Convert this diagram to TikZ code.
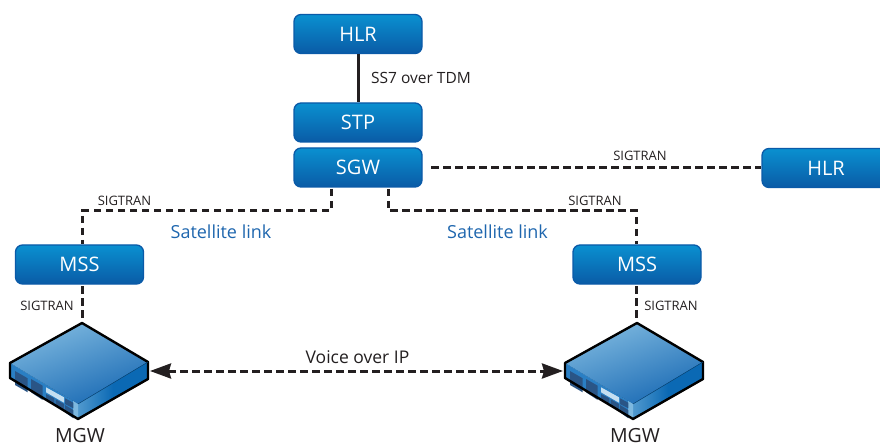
\documentclass[tikz,border=0pt]{standalone}
\usepackage{fontspec}
\setmainfont{Open Sans}
\usetikzlibrary{arrows.meta,calc}
\definecolor{boxtop}{HTML}{0A90D0}
\definecolor{boxbot}{HTML}{0A5BA6}
\definecolor{boxedge}{HTML}{0A5AA8}
\definecolor{labelblue}{HTML}{1E66AE}
\definecolor{txt}{HTML}{231F20}
\definecolor{facelight}{HTML}{7DB8DF}
\definecolor{facedark}{HTML}{1A6AB4}
\definecolor{leftface}{HTML}{2A7FC4}
\definecolor{rightface}{HTML}{0B69B4}
\definecolor{vent}{HTML}{2A5586}
\tikzset{
  x=1pt,y=-1pt,
  netbox/.style={rounded corners=7pt,draw=boxedge,line width=1.3pt,top color=boxtop,bottom color=boxbot,
    minimum width=128pt,minimum height=39pt,inner sep=0pt,text=white,font=\fontsize{20}{22}\selectfont},
  smalllabel/.style={font=\fontsize{13}{15}\selectfont,text=txt,inner sep=0pt},
  satlabel/.style={font=\fontsize{18}{20}\selectfont,text=labelblue,inner sep=0pt},
  midlabel/.style={font=\fontsize{17.5}{20}\selectfont,text=txt,inner sep=0pt},
  sslabel/.style={font=\fontsize{15.5}{18}\selectfont,text=txt,inner sep=0pt},
  mgwlabel/.style={font=\fontsize{19.5}{21}\selectfont,text=txt,inner sep=0pt},
  dashlink/.style={line width=3pt,draw=txt,dash pattern=on 7.5pt off 4.5pt},
  solidlink/.style={line width=3pt,draw=txt},
  anchorbox/.style={inner sep=0pt,minimum width=138pt,minimum height=96pt},
  pics/mgwbox/.style={code={
    \fill[top color=facelight,bottom color=facedark,shading angle=20]
      (0,0) -- (66,39) -- (-4,81) -- (-72,40) -- cycle;
    \fill[leftface] (-72,40) -- (-4,81) -- (-4,96) -- (-72,55) -- cycle;
    \fill[left color=facelight!60!rightface,right color=rightface,middle color=rightface] (-4,81) -- (66,39) -- (66,56) -- (-4,96) -- cycle;
    \fill[facelight] (-9,78) -- (-4,81) -- (-4,96) -- (-9,93) -- cycle;
    \foreach \p in {
      {(-67,48) -- (-54.3,55.3) -- (-54.3,69.3) -- (-67,62)},
      {(-51,56) -- (-39.3,62.7) -- (-39.3,77) -- (-51,69.3)},
      {(-36,71) -- (-27.7,75.3) -- (-27.7,82) -- (-36,77)},
      {(-26.3,76.3) -- (-18,81) -- (-18,87) -- (-26.3,82)},
      {(-17,75.3) -- (-8.7,79.7) -- (-8.7,85.3) -- (-17,81)},
      {(-17,82) -- (-8.7,87) -- (-8.7,95.3) -- (-17,89.3)}}{
      \fill[vent] \p -- cycle;
    }
    \fill[white!55!facelight] (-36,64.3) -- (-18,74.3) -- (-18,79.7) -- (-36,69.3) -- cycle;
    \draw[black,line width=2.4pt,line join=round] (0,0) -- (66,39) -- (66,56) -- (-4,96) -- (-72,55) -- (-72,40) -- cycle;
    \draw[rightface!70!black,line width=.5pt] (-4,81) -- (66,39);
  }}
}
\begin{document}
\begin{tikzpicture}
\useasboundingbox (0,0) rectangle (880,446);
\begin{scope}
\clip (0,0) rectangle (880,446);
\node[netbox] (hlra) at (358,34) {HLR};
\node[netbox] (stp) at (358,122.5) {STP};
\node[netbox] (sgw) at (358,167.5) {SGW};
\node[netbox] (hlrb) at (826,168) {HLR};
\node[netbox] (mssa) at (79.5,264.5) {MSS};
\node[netbox] (mssb) at (637,264.5) {MSS};
\end{scope}
\node[anchorbox] (mgwa) at (79,371) {};
\node[anchorbox] (mgwb) at (634,371) {};
\pic at (82,323) {mgwbox};
\pic at (637,323) {mgwbox};

\coordinate (sgwdl) at (331,189);
\coordinate (sgwdr) at (388,189);
\coordinate (bendl) at (331,211);
\coordinate (bendr) at (388,211);
\coordinate (mssatop) at (82,244);
\coordinate (mssbtop) at (636,244);
\coordinate (mssabot) at (82,286);
\coordinate (mssbbot) at (636,286);
\coordinate (mgwatop) at (82,322);
\coordinate (mgwbtop) at (636,322);
\coordinate (sgwe) at (431,168);
\coordinate (mgwae) at (150,371);
\coordinate (mgwbw) at (563,371);

\draw[solidlink] (hlra.south) -- (stp.north);
\draw[dashlink] (sgwe) -- (hlrb.west);
\draw[dashlink] (sgwdl) -- (bendl) -| (mssatop);
\draw[dashlink] (sgwdr) -- (bendr) -| (mssbtop);
\draw[dashlink] (mssabot) -- (mgwatop);
\draw[dashlink] (mssbbot) -- (mgwbtop);
\draw[dashlink,{Stealth[length=21pt,width=15pt,inset=2pt]}-{Stealth[length=21pt,width=15pt,inset=2pt]}] (mgwae) -- (mgwbw);

\node[sslabel,anchor=west] (ss7) at (371,78) {SS7 over TDM};
\node[smalllabel] (sig1) at (640,155.5) {SIGTRAN};
\node[smalllabel] (sig2) at (124.5,201) {SIGTRAN};
\node[smalllabel] (sig3) at (595,201) {SIGTRAN};
\node[smalllabel] (sig4) at (47,305.5) {SIGTRAN};
\node[smalllabel] (sig5) at (671,305.5) {SIGTRAN};
\node[satlabel] (sat1) at (221,231.5) {Satellite link};
\node[satlabel] (sat2) at (497.5,231.5) {Satellite link};
\node[midlabel] (voip) at (357.5,357) {Voice over IP};
\node[mgwlabel] (mgwl1) at (80,436) {MGW};
\node[mgwlabel] (mgwl2) at (635,436) {MGW};
\end{tikzpicture}
\end{document}
